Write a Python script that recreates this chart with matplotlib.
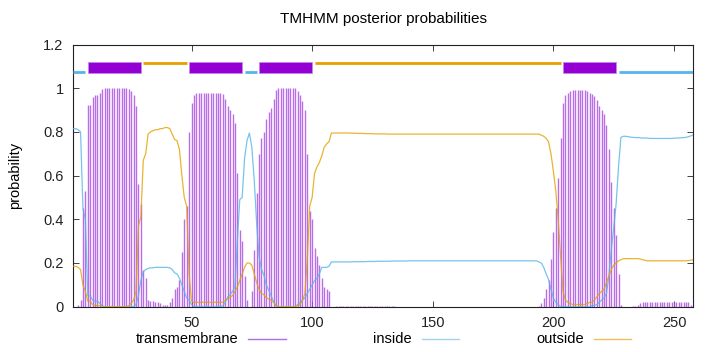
import matplotlib
matplotlib.use("Agg")
import matplotlib.pyplot as plt
from matplotlib.lines import Line2D
from matplotlib.patches import Rectangle
import numpy as np

plt.rcParams['font.family'] = ['Liberation Sans', 'DejaVu Sans']

# ---------------- data (residues 1..258) ----------------
transmembrane = [
    0.0, 0.0, 0.01, 0.03, 0.45, 0.53, 0.925, 0.925, 0.96, 0.97,
    0.97, 0.98, 0.995, 1.0, 1.0, 1.0, 1.0, 1.0, 1.0, 1.0,
    1.0, 1.0, 1.0, 0.995, 0.985, 0.97, 0.92, 0.56, 0.47, 0.17,
    0.13, 0.03, 0.025, 0.025, 0.02, 0.02, 0.015, 0.01, 0.01, 0.01,
    0.02, 0.04, 0.08, 0.09, 0.12, 0.25, 0.40, 0.46, 0.80, 0.93,
    0.97, 0.98, 0.98, 0.98, 0.98, 0.98, 0.98, 0.98, 0.98, 0.98,
    0.98, 0.98, 0.975, 0.95, 0.92, 0.90, 0.88, 0.84, 0.61, 0.35,
    0.30, 0.14, 0.03, 0.0, 0.07, 0.26, 0.52, 0.70, 0.77, 0.80,
    0.86, 0.89, 0.91, 0.95, 0.99, 1.0, 1.0, 1.0, 1.0, 1.0,
    1.0, 1.0, 1.0, 0.985, 0.97, 0.94, 0.90, 0.70, 0.44, 0.40,
    0.27, 0.23, 0.19, 0.13, 0.09, 0.08, 0.07, 0.0, 0.0, 0.005,
    0.005, 0.005, 0.005, 0.005, 0.005, 0.005, 0.005, 0.005, 0.005, 0.005,
    0.005, 0.005, 0.005, 0.005, 0.005, 0.005, 0.005, 0.005, 0.005, 0.005,
    0.005, 0.005, 0.005, 0.005, 0.0, 0.0, 0.0, 0.0, 0.0, 0.0,
    0.0, 0.0, 0.0, 0.0, 0.0, 0.0, 0.0, 0.0, 0.0, 0.0,
    0.0, 0.0, 0.0, 0.0, 0.0, 0.0, 0.0, 0.0, 0.0, 0.0,
    0.0, 0.0, 0.0, 0.0, 0.0, 0.0, 0.0, 0.0, 0.0, 0.0,
    0.0, 0.0, 0.0, 0.0, 0.0, 0.0, 0.0, 0.0, 0.0, 0.0,
    0.0, 0.0, 0.0, 0.0, 0.0, 0.0, 0.0, 0.0, 0.0, 0.0,
    0.0, 0.0, 0.0, 0.005, 0.015, 0.04, 0.08, 0.12, 0.22, 0.34,
    0.45, 0.59, 0.77, 0.93, 0.97, 0.98, 0.985, 0.99, 0.99, 0.99,
    0.99, 0.99, 0.99, 0.985, 0.98, 0.975, 0.965, 0.945, 0.92, 0.90,
    0.88, 0.83, 0.72, 0.57, 0.45, 0.33, 0.15, 0.01, 0.0, 0.0,
    0.0, 0.0, 0.005, 0.005, 0.01, 0.015, 0.02, 0.02, 0.02, 0.02,
    0.02, 0.02, 0.02, 0.02, 0.02, 0.02, 0.02, 0.02, 0.02, 0.02,
    0.02, 0.02, 0.02, 0.02, 0.02, 0.02, 0.01, 0.005,
]

inside = [
    0.815, 0.815, 0.81, 0.80, 0.45, 0.40, 0.05, 0.05, 0.03, 0.025,
    0.025, 0.015, 0.005, 0.0, 0.0, 0.0, 0.0, 0.0, 0.0, 0.0,
    0.0, 0.0, 0.0, 0.0, 0.0, 0.0, 0.01, 0.05, 0.12, 0.16,
    0.17, 0.175, 0.178, 0.178, 0.18, 0.18, 0.18, 0.18, 0.18, 0.18,
    0.178, 0.17, 0.155, 0.15, 0.13, 0.10, 0.07, 0.04, 0.03, 0.01,
    0.0, 0.0, 0.0, 0.0, 0.0, 0.0, 0.0, 0.0, 0.0, 0.0,
    0.0, 0.0, 0.005, 0.02, 0.045, 0.055, 0.07, 0.09, 0.30, 0.49,
    0.50, 0.68, 0.76, 0.795, 0.73, 0.58, 0.38, 0.23, 0.17, 0.145,
    0.10, 0.075, 0.05, 0.025, 0.005, 0.0, 0.0, 0.0, 0.0, 0.0,
    0.0, 0.0, 0.0, 0.01, 0.02, 0.03, 0.04, 0.06, 0.08, 0.10,
    0.12, 0.13, 0.15, 0.18, 0.18, 0.18, 0.185, 0.205, 0.205, 0.205,
    0.205, 0.205, 0.205, 0.205, 0.205, 0.205, 0.206, 0.206, 0.206, 0.206,
    0.206, 0.206, 0.207, 0.207, 0.207, 0.207, 0.208, 0.208, 0.208, 0.208,
    0.208, 0.208, 0.209, 0.209, 0.209, 0.209, 0.209, 0.209, 0.209, 0.21,
    0.21, 0.21, 0.21, 0.21, 0.21, 0.21, 0.21, 0.21, 0.21, 0.21,
    0.21, 0.21, 0.21, 0.21, 0.21, 0.21, 0.21, 0.21, 0.21, 0.21,
    0.21, 0.21, 0.21, 0.21, 0.21, 0.21, 0.21, 0.21, 0.21, 0.21,
    0.21, 0.21, 0.21, 0.21, 0.21, 0.21, 0.21, 0.21, 0.21, 0.21,
    0.21, 0.21, 0.21, 0.21, 0.21, 0.21, 0.21, 0.21, 0.21, 0.21,
    0.21, 0.21, 0.21, 0.205, 0.20, 0.18, 0.15, 0.125, 0.08, 0.04,
    0.02, 0.01, 0.0, 0.0, 0.0, 0.0, 0.0, 0.0, 0.0, 0.0,
    0.0, 0.0, 0.0, 0.0, 0.0, 0.005, 0.005, 0.01, 0.02, 0.03,
    0.04, 0.06, 0.14, 0.26, 0.36, 0.47, 0.64, 0.775, 0.78, 0.78,
    0.778, 0.776, 0.775, 0.774, 0.774, 0.773, 0.772, 0.772, 0.772, 0.77,
    0.77, 0.77, 0.77, 0.77, 0.77, 0.77, 0.77, 0.77, 0.77, 0.771,
    0.772, 0.772, 0.773, 0.774, 0.775, 0.778, 0.782, 0.787,
]

outside = [
    0.185, 0.185, 0.18, 0.17, 0.10, 0.07, 0.025, 0.025, 0.01, 0.005,
    0.005, 0.005, 0.0, 0.0, 0.0, 0.0, 0.0, 0.0, 0.0, 0.0,
    0.0, 0.0, 0.0, 0.005, 0.015, 0.03, 0.07, 0.37, 0.41, 0.67,
    0.70, 0.79, 0.80, 0.805, 0.81, 0.81, 0.815, 0.815, 0.82, 0.82,
    0.815, 0.79, 0.765, 0.76, 0.72, 0.60, 0.50, 0.46, 0.15, 0.025,
    0.02, 0.02, 0.02, 0.02, 0.02, 0.02, 0.02, 0.02, 0.02, 0.02,
    0.02, 0.02, 0.02, 0.03, 0.035, 0.045, 0.05, 0.07, 0.09, 0.12,
    0.15, 0.18, 0.20, 0.20, 0.19, 0.15, 0.11, 0.08, 0.06, 0.055,
    0.04, 0.035, 0.03, 0.02, 0.005, 0.0, 0.0, 0.0, 0.0, 0.0,
    0.0, 0.0, 0.0, 0.005, 0.01, 0.03, 0.06, 0.22, 0.46, 0.50,
    0.61, 0.64, 0.66, 0.69, 0.73, 0.745, 0.755, 0.795, 0.795, 0.795,
    0.795, 0.795, 0.795, 0.795, 0.795, 0.794, 0.794, 0.794, 0.793, 0.793,
    0.793, 0.792, 0.792, 0.792, 0.792, 0.791, 0.791, 0.791, 0.791, 0.791,
    0.79, 0.79, 0.79, 0.79, 0.79, 0.79, 0.79, 0.79, 0.79, 0.79,
    0.79, 0.79, 0.79, 0.79, 0.79, 0.79, 0.79, 0.79, 0.79, 0.79,
    0.79, 0.79, 0.79, 0.79, 0.79, 0.79, 0.79, 0.79, 0.79, 0.79,
    0.79, 0.79, 0.79, 0.79, 0.79, 0.79, 0.79, 0.79, 0.79, 0.79,
    0.79, 0.79, 0.79, 0.79, 0.79, 0.79, 0.79, 0.79, 0.79, 0.79,
    0.79, 0.79, 0.79, 0.79, 0.79, 0.79, 0.79, 0.79, 0.79, 0.79,
    0.79, 0.79, 0.79, 0.79, 0.785, 0.78, 0.77, 0.755, 0.70, 0.62,
    0.53, 0.40, 0.23, 0.07, 0.03, 0.02, 0.015, 0.01, 0.01, 0.01,
    0.01, 0.01, 0.01, 0.015, 0.02, 0.02, 0.03, 0.045, 0.06, 0.07,
    0.08, 0.11, 0.14, 0.17, 0.19, 0.20, 0.21, 0.215, 0.22, 0.22,
    0.22, 0.22, 0.22, 0.22, 0.22, 0.218, 0.215, 0.212, 0.21, 0.21,
    0.21, 0.21, 0.21, 0.21, 0.21, 0.21, 0.21, 0.21, 0.21, 0.21,
    0.21, 0.21, 0.21, 0.21, 0.21, 0.211, 0.213, 0.215,
]

# predicted topology: (label, start, end)
topology = [
    ("inside", 1, 6), ("TMhelix", 7, 29), ("outside", 30, 48),
    ("TMhelix", 49, 71), ("inside", 72, 77), ("TMhelix", 78, 100),
    ("outside", 101, 203), ("TMhelix", 204, 226), ("inside", 227, 258),
]

title = "TMHMM posterior probabilities"
ylabel = "probability"
xticks = [50, 100, 150, 200, 250]
yticks = [0, 0.2, 0.4, 0.6, 0.8, 1.0, 1.2]
yticklabels = ["0", "0.2", "0.4", "0.6", "0.8", "1", "1.2"]

C_TM = "#9400D3"
C_IN = "#56B4E9"
C_OUT = "#E69F00"

pos = np.arange(1, len(transmembrane) + 1)

fig = plt.figure(figsize=(7.2, 3.52), dpi=100)
ax = fig.add_axes([73.3 / 720, 1 - 306.7 / 352, 620 / 720, (306.7 - 44.5) / 352])

ax.vlines(pos, 0, transmembrane, color="#A64AE0", lw=1.0, alpha=0.8, zorder=2)
ax.plot(pos, inside, color=C_IN, lw=0.9, alpha=0.8, zorder=3)
ax.plot(pos, outside, color=C_OUT, lw=0.9, alpha=0.8, zorder=3)

for lab, s, e in topology:
    if lab == "TMhelix":
        ax.add_patch(Rectangle((s, 1.071), e - s, 0.048, facecolor=C_TM,
                               edgecolor="#C08AE6", lw=0.6, zorder=4))
    elif lab == "inside":
        ax.plot([s, e], [1.075, 1.075], color=C_IN, lw=2.0, solid_capstyle="butt", zorder=4)
    else:
        ax.plot([s, e], [1.116, 1.116], color=C_OUT, lw=2.0, solid_capstyle="butt", zorder=4)

ax.set_xlim(1, 258)
ax.set_ylim(0, 1.2)
ax.set_xticks(xticks)
ax.set_xticklabels([str(t) for t in xticks])
ax.set_yticks(yticks)
ax.set_yticklabels(yticklabels)
ax.tick_params(direction="in", length=4, width=0.6, top=True, right=True,
               labelsize=10.5, pad=7, colors="#222222")
for sp in ax.spines.values():
    sp.set_linewidth(0.8)
    sp.set_color("#222222")

ax.set_ylabel(ylabel, fontsize=10.5)
ax.yaxis.set_label_coords((22 - 73.3) / 620, 0.5)
fig.text(383 / 720, 1 - 19 / 352, title, ha="center", va="center", fontsize=11)

# legend row under the axis (gnuplot style: text then sample line)
legend_items = [("transmembrane", "#B070E0", 238, 248, 286),
                ("inside", "#9FD3EE", 412, 422, 459),
                ("outside", "#F0C060", 584, 594, 631)]
ly = 1 - 339 / 352
for txt, col, tx, l0, l1 in legend_items:
    fig.text(tx / 720, ly, txt, ha="right", va="center", fontsize=10.5)
    fig.add_artist(Line2D([l0 / 720, l1 / 720], [ly, ly], color=col, lw=1.0,
                          transform=fig.transFigure))

fig.savefig("out.png", dpi=100)
